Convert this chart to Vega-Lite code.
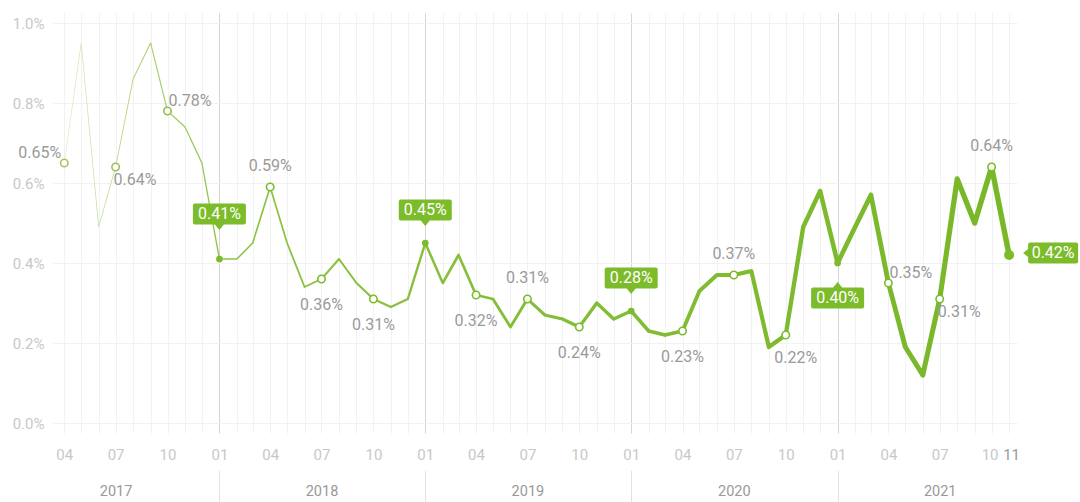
{
  "$schema": "https://vega.github.io/schema/vega-lite/v6.json",
  "width": 964,
  "height": 420,
  "autosize": {"type": "none"},
  "padding": {"left": 53, "top": 13, "right": 63, "bottom": 69},
  "background": "white",
  "data": {
    "format": {"parse": {"date": "date:'%Y-%m'"}},
    "values": [
      {"date": "2017-04", "v": 0.65}, {"date": "2017-05", "v": 0.95}, {"date": "2017-06", "v": 0.49},
      {"date": "2017-07", "v": 0.64}, {"date": "2017-08", "v": 0.86}, {"date": "2017-09", "v": 0.95},
      {"date": "2017-10", "v": 0.78}, {"date": "2017-11", "v": 0.74}, {"date": "2017-12", "v": 0.65},
      {"date": "2018-01", "v": 0.41}, {"date": "2018-02", "v": 0.41}, {"date": "2018-03", "v": 0.45},
      {"date": "2018-04", "v": 0.59}, {"date": "2018-05", "v": 0.45}, {"date": "2018-06", "v": 0.34},
      {"date": "2018-07", "v": 0.36}, {"date": "2018-08", "v": 0.41}, {"date": "2018-09", "v": 0.35},
      {"date": "2018-10", "v": 0.31}, {"date": "2018-11", "v": 0.29}, {"date": "2018-12", "v": 0.31},
      {"date": "2019-01", "v": 0.45}, {"date": "2019-02", "v": 0.35}, {"date": "2019-03", "v": 0.42},
      {"date": "2019-04", "v": 0.32}, {"date": "2019-05", "v": 0.31}, {"date": "2019-06", "v": 0.24},
      {"date": "2019-07", "v": 0.31}, {"date": "2019-08", "v": 0.27}, {"date": "2019-09", "v": 0.26},
      {"date": "2019-10", "v": 0.24}, {"date": "2019-11", "v": 0.30}, {"date": "2019-12", "v": 0.26},
      {"date": "2020-01", "v": 0.28}, {"date": "2020-02", "v": 0.23}, {"date": "2020-03", "v": 0.22},
      {"date": "2020-04", "v": 0.23}, {"date": "2020-05", "v": 0.33}, {"date": "2020-06", "v": 0.37},
      {"date": "2020-07", "v": 0.37}, {"date": "2020-08", "v": 0.38}, {"date": "2020-09", "v": 0.19},
      {"date": "2020-10", "v": 0.22}, {"date": "2020-11", "v": 0.49}, {"date": "2020-12", "v": 0.58},
      {"date": "2021-01", "v": 0.40}, {"date": "2021-02", "v": 0.49}, {"date": "2021-03", "v": 0.57},
      {"date": "2021-04", "v": 0.35}, {"date": "2021-05", "v": 0.19}, {"date": "2021-06", "v": 0.12},
      {"date": "2021-07", "v": 0.31}, {"date": "2021-08", "v": 0.61}, {"date": "2021-09", "v": 0.50},
      {"date": "2021-10", "v": 0.64}, {"date": "2021-11", "v": 0.42}
    ]
  },
  "transform": [
    {"calculate": "format(datum.v, '.2f') + '%'", "as": "lbl"},
    {"calculate": "timeFormat(datum.date, '%Y-%m')", "as": "ym"}
  ],
  "resolve": {"axis": {"x": "independent"}},
  "layer": [
    {
      "mark": {
        "type": "trail",
        "color": {
          "gradient": "linear", "x1": 0, "x2": 1, "y1": 0, "y2": 0,
          "stops": [
            {"offset": 0, "color": "#dbe9c4"},
            {"offset": 0.08, "color": "#acd072"},
            {"offset": 0.18, "color": "#8cc240"},
            {"offset": 1, "color": "#78b728"}
          ]
        }
      },
      "encoding": {
        "x": {
          "field": "date", "type": "temporal",
          "scale": {"domain": [{"year": 2017, "month": 3, "date": 12}, {"year": 2021, "month": 11, "date": 15}], "nice": false},
          "axis": {
            "orient": "bottom", "title": null,
            "tickCount": {"interval": "month", "step": 1},
            "labelExpr": "(month(datum.value) % 3 == 0 || (year(datum.value) == 2021 && month(datum.value) == 10)) ? timeFormat(datum.value, '%m') : ''",
            "labelColor": {"condition": {"test": "year(datum.value) == 2021 && month(datum.value) == 10", "value": "#9a9a9a"}, "value": "#c8c8c8"},
            "labelOffset": {"condition": [
              {"test": "year(datum.value) == 2021 && month(datum.value) == 10", "value": 2},
              {"test": "year(datum.value) == 2021 && month(datum.value) == 9", "value": -2}
            ], "value": 0},
            "labelFontSize": 15, "labelFont": "Roboto", "labelPadding": 14,
            "labelOverlap": false, "labelFlush": false,
            "ticks": false, "domain": false,
            "grid": true,
            "gridColor": {"condition": {"test": "month(datum.value) == 0", "value": "#d6d6d6"}, "value": "#f2f2f2"},
            "gridWidth": 1
          }
        },
        "y": {
          "field": "v", "type": "quantitative",
          "scale": {"domain": [-0.025, 1.025], "nice": false, "zero": false},
          "axis": {
            "title": null, "values": [0, 0.2, 0.4, 0.6, 0.8, 1.0],
            "labelExpr": "format(datum.value, '.1f') + '%'",
            "labelColor": "#c8c8c8", "labelFontSize": 15, "labelFont": "Roboto", "labelPadding": 9,
            "ticks": false, "domain": false, "grid": true, "gridColor": "#f2f2f2"
          }
        },
        "size": {"field": "date", "type": "temporal", "scale": {"range": [0.6, 5.5]}, "legend": null}
      }
    },
    {
      "transform": [{"filter": "indexof(['2017-04','2017-07','2017-10','2018-04','2018-07','2018-10','2019-04','2019-07','2019-10','2020-04','2020-07','2020-10','2021-04','2021-07','2021-10'], datum.ym) >= 0"}],
      "mark": {"type": "point", "shape": "circle", "fill": "white", "filled": false, "strokeWidth": 1.6, "size": 55, "opacity": 1, "fillOpacity": 1},
      "encoding": {
        "x": {
          "field": "date", "type": "temporal",
          "axis": {
            "orient": "bottom", "title": null, "offset": 37,
            "values": [{"year": 2017, "month": 7, "date": 1}, {"year": 2018, "month": 7, "date": 1}, {"year": 2019, "month": 7, "date": 1}, {"year": 2020, "month": 7, "date": 1}, {"year": 2021, "month": 7, "date": 1}],
            "labelExpr": "timeFormat(datum.value, '%Y')",
            "labelColor": "#999999", "labelFontSize": 14.5, "labelFont": "Roboto", "labelPadding": 14,
            "labelOverlap": false, "labelFlush": false,
            "ticks": false, "domain": false, "grid": false
          }
        },
        "y": {"field": "v", "type": "quantitative"},
        "stroke": {
          "field": "date", "type": "temporal",
          "scale": {"domain": [{"year": 2017, "month": 4, "date": 1}, {"year": 2018, "month": 4, "date": 1}], "range": ["#a6c462", "#7cbb2a"], "clamp": true},
          "legend": null
        }
      }
    },
    {
      "transform": [{"filter": "indexof(['2018-01','2019-01','2020-01','2021-01'], datum.ym) >= 0"}],
      "mark": {"type": "circle", "color": "#7cbb2a", "size": 45, "opacity": 1},
      "encoding": {
        "x": {
          "field": "date", "type": "temporal",
          "axis": {
            "orient": "bottom", "title": null, "offset": 37,
            "values": [{"year": 2018, "month": 1, "date": 1}, {"year": 2019, "month": 1, "date": 1}, {"year": 2020, "month": 1, "date": 1}, {"year": 2021, "month": 1, "date": 1}],
            "labels": false, "ticks": true, "tickSize": 32, "tickColor": "#e2e2e2", "tickWidth": 1,
            "domain": false, "grid": false
          }
        },
        "y": {"field": "v", "type": "quantitative"}
      }
    },
    {
      "transform": [{"filter": "datum.ym == '2021-11'"}],
      "mark": {"type": "circle", "color": "#7cbb2a", "size": 100, "opacity": 1},
      "encoding": {
        "x": {"field": "date", "type": "temporal", "axis": null},
        "y": {"field": "v", "type": "quantitative"}
      }
    },
    {
      "transform": [{"filter": "indexof(['2018-04','2019-07','2020-07','2021-10'], datum.ym) >= 0"}],
      "mark": {"type": "text", "align": "center", "baseline": "middle", "dy": -21, "fontSize": 16, "font": "Roboto", "color": "#9a9a9a"},
      "encoding": {
        "x": {"field": "date", "type": "temporal", "axis": null},
        "y": {"field": "v", "type": "quantitative"},
        "text": {"field": "lbl"}
      }
    },
    {
      "transform": [{"filter": "indexof(['2018-07','2018-10','2019-04','2019-10','2020-04'], datum.ym) >= 0"}],
      "mark": {"type": "text", "align": "center", "baseline": "middle", "dy": 26, "fontSize": 16, "font": "Roboto", "color": "#9a9a9a"},
      "encoding": {
        "x": {"field": "date", "type": "temporal", "axis": null},
        "y": {"field": "v", "type": "quantitative"},
        "text": {"field": "lbl"}
      }
    },
    {
      "transform": [{"filter": "datum.ym == '2020-10'"}],
      "mark": {"type": "text", "align": "center", "baseline": "middle", "dx": 10, "dy": 23, "fontSize": 16, "font": "Roboto", "color": "#9a9a9a"},
      "encoding": {
        "x": {"field": "date", "type": "temporal", "axis": null},
        "y": {"field": "v", "type": "quantitative"},
        "text": {"field": "lbl"}
      }
    },
    {
      "transform": [{"filter": "datum.ym == '2017-04'"}],
      "mark": {"type": "text", "align": "right", "baseline": "middle", "dx": -3, "dy": -10, "fontSize": 16, "font": "Roboto", "color": "#9a9a9a"},
      "encoding": {
        "x": {"field": "date", "type": "temporal", "axis": null},
        "y": {"field": "v", "type": "quantitative"},
        "text": {"field": "lbl"}
      }
    },
    {
      "transform": [{"filter": "indexof(['2017-10','2021-04'], datum.ym) >= 0"}],
      "mark": {"type": "text", "align": "left", "baseline": "middle", "dx": 1, "dy": -10, "fontSize": 16, "font": "Roboto", "color": "#9a9a9a"},
      "encoding": {
        "x": {"field": "date", "type": "temporal", "axis": null},
        "y": {"field": "v", "type": "quantitative"},
        "text": {"field": "lbl"}
      }
    },
    {
      "transform": [{"filter": "indexof(['2017-07','2021-07'], datum.ym) >= 0"}],
      "mark": {"type": "text", "align": "left", "baseline": "middle", "dx": -2, "dy": 13, "fontSize": 16, "font": "Roboto", "color": "#9a9a9a"},
      "encoding": {
        "x": {"field": "date", "type": "temporal", "axis": null},
        "y": {"field": "v", "type": "quantitative"},
        "text": {"field": "lbl"}
      }
    },
    {
      "transform": [{"filter": "datum.ym == '2018-01'"}],
      "mark": {"type": "point", "filled": true, "fill": "#7cbb2a", "strokeWidth": 0, "opacity": 1, "size": 400, "yOffset": -45,
        "shape": "M-2.45,-1.05 L2.45,-1.05 Q2.65,-1.05 2.65,-0.85 L2.65,0.85 Q2.65,1.05 2.45,1.05 L0.45,1.05 L0,1.6 L-0.45,1.05 L-2.45,1.05 Q-2.65,1.05 -2.65,0.85 L-2.65,-0.85 Q-2.65,-1.05 -2.45,-1.05 Z"},
      "encoding": {
        "x": {"field": "date", "type": "temporal", "axis": null},
        "y": {"field": "v", "type": "quantitative"}
      }
    },
    {
      "transform": [{"filter": "datum.ym == '2018-01'"}],
      "mark": {"type": "text", "align": "center", "baseline": "middle", "dy": -45, "fontSize": 16, "font": "Roboto", "color": "white"},
      "encoding": {
        "x": {"field": "date", "type": "temporal", "axis": null},
        "y": {"field": "v", "type": "quantitative"},
        "text": {"field": "lbl"}
      }
    },
    {
      "transform": [{"filter": "indexof(['2019-01','2020-01'], datum.ym) >= 0"}],
      "mark": {"type": "point", "filled": true, "fill": "#7cbb2a", "strokeWidth": 0, "opacity": 1, "size": 400, "yOffset": -33,
        "shape": "M-2.45,-1.05 L2.45,-1.05 Q2.65,-1.05 2.65,-0.85 L2.65,0.85 Q2.65,1.05 2.45,1.05 L0.45,1.05 L0,1.6 L-0.45,1.05 L-2.45,1.05 Q-2.65,1.05 -2.65,0.85 L-2.65,-0.85 Q-2.65,-1.05 -2.45,-1.05 Z"},
      "encoding": {
        "x": {"field": "date", "type": "temporal", "axis": null},
        "y": {"field": "v", "type": "quantitative"}
      }
    },
    {
      "transform": [{"filter": "indexof(['2019-01','2020-01'], datum.ym) >= 0"}],
      "mark": {"type": "text", "align": "center", "baseline": "middle", "dy": -33, "fontSize": 16, "font": "Roboto", "color": "white"},
      "encoding": {
        "x": {"field": "date", "type": "temporal", "axis": null},
        "y": {"field": "v", "type": "quantitative"},
        "text": {"field": "lbl"}
      }
    },
    {
      "transform": [{"filter": "datum.ym == '2021-01'"}],
      "mark": {"type": "point", "filled": true, "fill": "#7cbb2a", "strokeWidth": 0, "opacity": 1, "size": 400, "yOffset": 35,
        "shape": "M-2.45,-1.05 L-0.45,-1.05 L0,-1.6 L0.45,-1.05 L2.45,-1.05 Q2.65,-1.05 2.65,-0.85 L2.65,0.85 Q2.65,1.05 2.45,1.05 L-2.45,1.05 Q-2.65,1.05 -2.65,0.85 L-2.65,-0.85 Q-2.65,-1.05 -2.45,-1.05 Z"},
      "encoding": {
        "x": {"field": "date", "type": "temporal", "axis": null},
        "y": {"field": "v", "type": "quantitative"}
      }
    },
    {
      "transform": [{"filter": "datum.ym == '2021-01'"}],
      "mark": {"type": "text", "align": "center", "baseline": "middle", "dy": 35, "fontSize": 16, "font": "Roboto", "color": "white"},
      "encoding": {
        "x": {"field": "date", "type": "temporal", "axis": null},
        "y": {"field": "v", "type": "quantitative"},
        "text": {"field": "lbl"}
      }
    },
    {
      "transform": [{"filter": "datum.ym == '2021-11'"}],
      "mark": {"type": "point", "filled": true, "fill": "#7cbb2a", "strokeWidth": 0, "opacity": 1, "size": 400, "xOffset": 44, "yOffset": -2,
        "shape": "M-2.3,-1.05 L2.3,-1.05 Q2.5,-1.05 2.5,-0.85 L2.5,0.85 Q2.5,1.05 2.3,1.05 L-2.3,1.05 Q-2.5,1.05 -2.5,0.85 L-2.5,0.4 L-3.0,0 L-2.5,-0.4 L-2.5,-0.85 Q-2.5,-1.05 -2.3,-1.05 Z"},
      "encoding": {
        "x": {"field": "date", "type": "temporal", "axis": null},
        "y": {"field": "v", "type": "quantitative"}
      }
    },
    {
      "transform": [{"filter": "datum.ym == '2021-11'"}],
      "mark": {"type": "text", "align": "center", "baseline": "middle", "dx": 44, "dy": -2, "fontSize": 16, "font": "Roboto", "color": "white"},
      "encoding": {
        "x": {"field": "date", "type": "temporal", "axis": null},
        "y": {"field": "v", "type": "quantitative"},
        "text": {"field": "lbl"}
      }
    }
  ],
  "config": {"view": {"stroke": null}, "font": "Roboto"}
}
